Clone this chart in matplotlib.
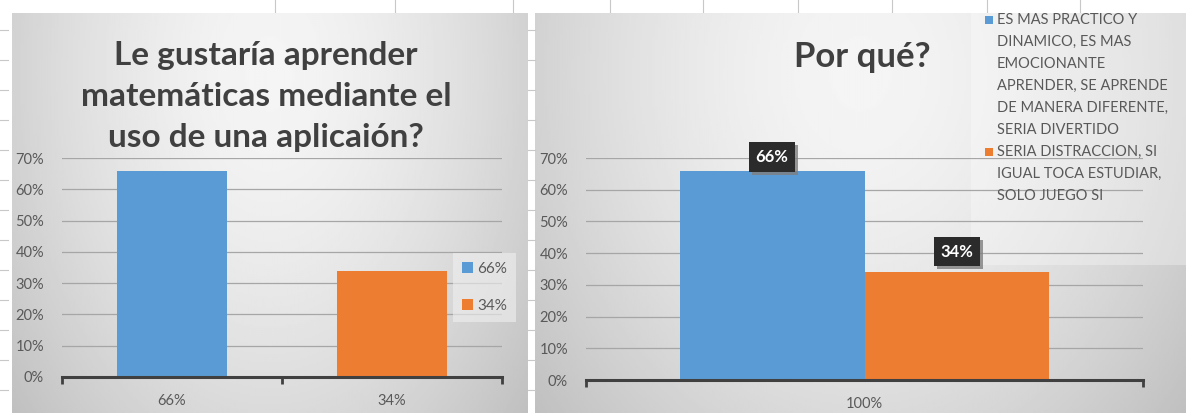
import numpy as np
import matplotlib
matplotlib.use('Agg')
import matplotlib.pyplot as plt
from matplotlib.patches import Rectangle
from matplotlib.lines import Line2D
from matplotlib import patheffects

plt.rcParams['font.family'] = ['Lato', 'DejaVu Sans']

# datos
left_title = 'Le gustaría aprender\nmatemáticas mediante el\nuso de una aplicaión?'
left_categories = ['66%', '34%']
left_values = [0.66, 0.34]
left_legend = ['66%', '34%']

right_title = 'Por qué?'
right_category = '100%'
right_values = [0.66, 0.34]
right_value_labels = ['66%', '34%']
right_legend = [
    ['ES MAS PRACTICO Y', 'DINAMICO, ES MAS', 'EMOCIONANTE',
     'APRENDER, SE APRENDE', 'DE MANERA DIFERENTE,', 'SERIA DIVERTIDO'],
    ['SERIA DISTRACCION, SI', 'IGUAL TOCA ESTUDIAR,', 'SOLO JUEGO SI'],
]

yticks = [0, 0.1, 0.2, 0.3, 0.4, 0.5, 0.6, 0.7]
ytick_labels = ['0%', '10%', '20%', '30%', '40%', '50%', '60%', '70%']
colors = ['#5b9bd5', '#ed7d31']
txt_gray = '#595959'

W, H = 1186, 413


def px(x0, y0, x1, y1):
    # caja en pixeles (origen arriba-izquierda) -> coords de figura
    return [x0 / W, 1 - y1 / H, (x1 - x0) / W, (y1 - y0) / H]


def fondo(rect):
    ax = fig.add_axes(rect)
    X, Y = np.meshgrid(np.linspace(0, 1, 300), np.linspace(0, 1, 200))
    r = np.sqrt(((X - 0.5) / 0.6) ** 2 + ((Y - 0.85) / 1.2) ** 2)
    g = np.clip(0.96 - 0.18 * r ** 1.6, 0, 1)
    ax.imshow(g, cmap='gray', vmin=0, vmax=1, aspect='auto',
              origin='lower', extent=[0, 1, 0, 1])
    ax.axis('off')
    return ax


def estilo(ax, n):
    ax.set_ylim(0, 0.7)
    ax.set_yticks(yticks)
    ax.set_yticklabels(ytick_labels)
    ax.set_facecolor('none')
    for s in ax.spines.values():
        s.set_visible(False)
    ax.spines['bottom'].set_visible(True)
    ax.spines['bottom'].set_color('#404040')
    ax.spines['bottom'].set_linewidth(2.2)
    ax.grid(axis='y', color='#a6a6a6', linewidth=0.9)
    ax.set_axisbelow(True)
    ax.tick_params(axis='y', length=0, pad=13, labelsize=10.5, labelcolor=txt_gray)
    ax.tick_params(axis='x', which='major', length=0, pad=12, labelsize=10.5,
                   labelcolor=txt_gray)
    ax.set_xticks(np.arange(-0.5, n, 1.0), minor=True)
    ax.tick_params(axis='x', which='minor', length=5, width=2, color='#404040',
                   direction='out')


fig = plt.figure(figsize=(W / 100, H / 100), dpi=100)
fig.patch.set_facecolor('white')

fondo(px(12, 13, 528, 413))
bg_r = fondo(px(535, 13, 1186, 413))
bg_r.add_patch(Rectangle((0.67, 0.37), 0.33, 0.63, transform=bg_r.transAxes,
                         facecolor='white', alpha=0.3, edgecolor='none'))

# lineas de la hoja de calculo
for x in [275, 395, 513, 610, 703, 798, 892, 987, 1080]:
    fig.add_artist(Line2D([x / W, x / W], [1, 1 - 12 / H], color='#c8c8c8', lw=0.8))
for y in range(30, 413, 30):
    fig.add_artist(Line2D([0, 8 / W], [1 - y / H, 1 - y / H], color='#c8c8c8', lw=0.8))
    fig.add_artist(Line2D([528 / W, 535 / W], [1 - y / H, 1 - y / H], color='#c8c8c8', lw=0.8))

# ---- grafico izquierdo ----
ax1 = fig.add_axes(px(62, 158, 502, 377))
x1 = np.arange(len(left_categories))
bars1 = ax1.bar(x1, left_values, width=0.5, color=colors)
ax1.set_xlim(-0.5, len(left_categories) - 0.5)
ax1.set_xticks(x1)
ax1.set_xticklabels(left_categories)
estilo(ax1, len(left_categories))

fig.text(266 / W, 1 - 97 / H, left_title, ha='center', va='center',
         fontsize=24, fontweight='bold', color='#404040', linespacing=1.5)

leg = fig.legend(bars1.patches, left_legend, loc='upper left',
                 bbox_to_anchor=(453 / W, 1 - 253 / H), frameon=True,
                 fontsize=11, handlelength=0.7, handleheight=0.7,
                 handletextpad=0.3, labelspacing=1.5, borderpad=0.6,
                 borderaxespad=0, fancybox=False)
leg.get_frame().set_facecolor('#f0f0f0')
leg.get_frame().set_edgecolor('none')
leg.get_frame().set_alpha(0.6)
for t in leg.get_texts():
    t.set_color(txt_gray)

# ---- grafico derecho ----
ax2 = fig.add_axes(px(586, 158, 1143, 380))
w = 0.332
offs = [-w / 2, w / 2]
label_gap = [4, 9]
for v, c, o, lab, gap in zip(right_values, colors, offs, right_value_labels, label_gap):
    ax2.bar(o, v, width=w, color=c)
    t = ax2.annotate(lab, (o, v), xytext=(0, gap), textcoords='offset points',
                     ha='center', va='bottom', color='white', fontsize=12,
                     fontweight='bold',
                     bbox=dict(facecolor='#2b2b2b', edgecolor='none',
                               boxstyle='square,pad=0.4'))
    t.get_bbox_patch().set_path_effects([
        patheffects.SimplePatchShadow(offset=(2, -2), shadow_rgbFace='#7f7f7f', alpha=0.8),
        patheffects.Normal()])
ax2.set_xlim(-0.5, 0.5)
ax2.set_xticks([0])
ax2.set_xticklabels([right_category])
estilo(ax2, 1)

fig.text(862 / W, 1 - 57 / H, right_title, ha='center', va='center',
         fontsize=25, fontweight='bold', color='#404040')

# leyenda derecha (texto multilinea, marcador en la primera linea)
line_px = 22
y = 20
for lines, c in zip(right_legend, colors):
    fig.add_artist(Rectangle((985 / W, 1 - (y + 4) / H), 8 / W, 8 / H,
                             transform=fig.transFigure, facecolor=c,
                             edgecolor='none'))
    for ln in lines:
        fig.text(997 / W, 1 - y / H, ln, ha='left', va='center',
                 fontsize=10.5, color=txt_gray)
        y += line_px

fig.savefig('out.png', dpi=100)
